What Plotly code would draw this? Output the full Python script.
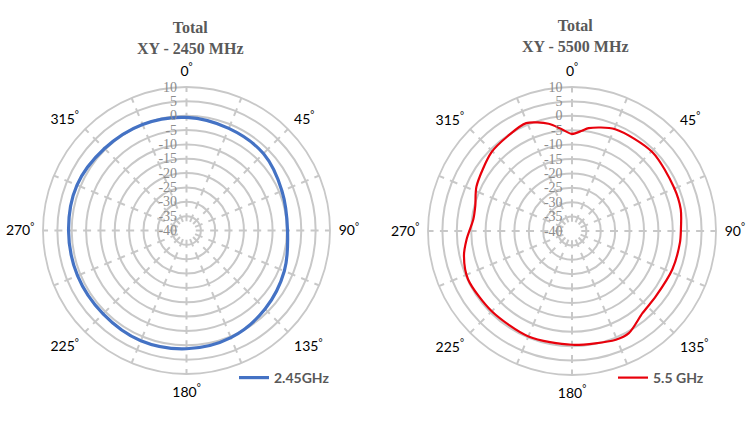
import plotly.graph_objects as go

# ---------------- data ----------------
angles_24 = [0, 22.5, 45, 67.5, 90, 112.5, 135, 157.5, 180, 202.5, 225, 247.5,
             270, 292.5, 315, 337.5, 360]
gain_24 = [-0.6, -1.5, -2.1, -4.0, -4.8, -3.1, -1.3, 0.4, 1.2, 1.6, 1.1, 1.1,
           1.1, 1.3, 0.4, 0.0, -0.6]

angles_55 = [0, 5.7, 9.2, 23, 45.6, 66.9, 78.7, 90, 96, 111, 128, 139.4, 150.9,
             158, 180, 202.4, 225, 245, 257, 265.5, 276.8, 284.6, 295, 314.4,
             326, 337, 347.7, 354, 360]
gain_55 = [-6.3, -5.0, -3.8, -1.6, -0.9, -1.5, -1.5, -2.2, -2.3, -2.7, -3.1,
           -2.4, 0.6, 0.7, -0.5, -0.4, -0.6, -0.2, -1.5, -3.3, -5.5, -5.3,
           -3.4, -0.9, -0.2, 0.7, -1.9, -4.4, -6.3]

series_names = ["2.45GHz", "5.5 GHz"]
titles = ["Total<br>XY - 2450 MHz", "Total<br>XY - 5500 MHz"]
radial_ticks = [10, 5, 0, -5, -10, -15, -20, -25, -30, -35, -40]
angle_ticks = [i * 22.5 for i in range(16)]
angle_labels = [f"{int(a)}<sup>°</sup>" if a % 45 == 0 else " " for a in angle_ticks]

# ---------------- figure ----------------
GRID = "#C8C8C8"
dash = "0px,9.3px," + ",".join(["8px,6.35px"] * 10)

fig = go.Figure()
fig.add_trace(go.Scatterpolar(r=gain_24, theta=angles_24, mode="lines",
                              line=dict(color="#4472C4", width=3.2, shape="spline", smoothing=1.0),
                              name=series_names[0], subplot="polar", legend="legend",
                              showlegend=True))
fig.add_trace(go.Scatterpolar(r=gain_55, theta=angles_55, mode="lines",
                              line=dict(color="#E8000B", width=2.2, shape="spline", smoothing=0.8),
                              name=series_names[1], subplot="polar2", legend="legend2",
                              showlegend=True))

def polar_cfg(xdom, ydom):
    return dict(
        domain=dict(x=xdom, y=ydom),
        bgcolor="white",
        radialaxis=dict(range=[-40, 10], tickvals=radial_ticks,
                        ticktext=[str(v) for v in radial_ticks],
                        angle=90, tickangle=90, side="counterclockwise",
                        showline=False, ticks="outside", ticklen=4,
                        tickcolor="rgba(0,0,0,0)", gridcolor=GRID, gridwidth=1.8,
                        tickfont=dict(family="Liberation Serif", size=14, color="#8C8C8C")),
        angularaxis=dict(direction="clockwise", rotation=90, tickmode="array",
                         tickvals=angle_ticks, ticktext=angle_labels,
                         showline=True, linecolor=GRID, linewidth=1.8,
                         gridcolor=GRID, gridwidth=1.8, griddash=dash,
                         ticks="outside", ticklen=5, tickcolor="rgba(0,0,0,0)",
                         tickfont=dict(family="Lato", size=14, color="black")),
    )

legend_font = dict(family="Lato", size=14, color="#595959", weight="bold")

fig.update_layout(
    width=750, height=425,
    margin=dict(l=0, r=0, t=0, b=0),
    paper_bgcolor="white",
    showlegend=True,
    polar=polar_cfg([43 / 750, 330 / 750], [51 / 425, 338 / 425]),
    polar2=polar_cfg([428 / 750, 716 / 750], [50 / 425, 338 / 425]),
    legend=dict(x=234 / 750, y=(425 - 378) / 425, xanchor="left", yanchor="middle",
                bgcolor="rgba(0,0,0,0)", itemwidth=30, visible=True, font=legend_font),
    legend2=dict(x=613 / 750, y=(425 - 378) / 425, xanchor="left", yanchor="middle",
                 bgcolor="rgba(0,0,0,0)", itemwidth=30, visible=True, font=legend_font),
    annotations=[
        dict(text=f"<b>{titles[0]}</b>", x=190 / 750, y=1 - 38 / 425, xref="paper", yref="paper",
             xanchor="center", yanchor="middle", showarrow=False, align="center",
             font=dict(family="Liberation Serif", size=16, color="#595959")),
        dict(text=f"<b>{titles[1]}</b>", x=575 / 750, y=1 - 36 / 425, xref="paper", yref="paper",
             xanchor="center", yanchor="middle", showarrow=False, align="center",
             font=dict(family="Liberation Serif", size=16, color="#595959")),
    ],
)

fig.write_html("out.html")
